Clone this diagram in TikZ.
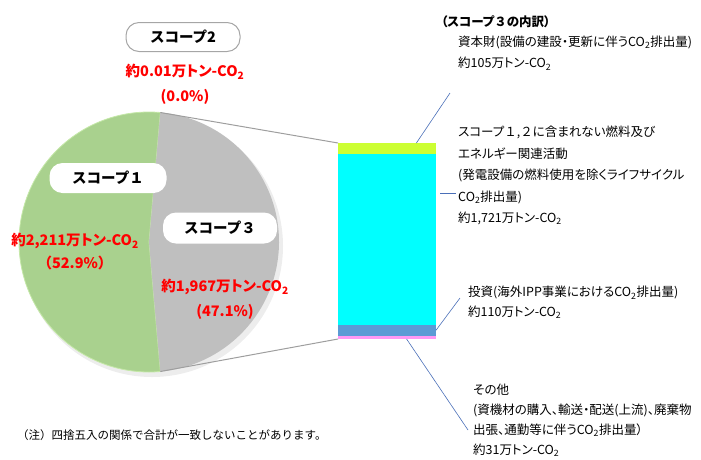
\documentclass[tikz,border=0pt]{standalone}
\usepackage{fontspec}
\setmainfont{Noto Sans CJK JP}[RawFeature=+palt]
\newfontfamily\fw{Noto Sans CJK JP}
\usetikzlibrary{positioning,calc}

\definecolor{scopeone}{HTML}{A9D18E}
\definecolor{scopeonerim}{HTML}{C5E8A8}
\definecolor{scopethree}{HTML}{BFBFBF}
\definecolor{capgoods}{HTML}{CCFF33}
\definecolor{fuelact}{HTML}{00FFFF}
\definecolor{invest}{HTML}{5B9BD5}
\definecolor{others}{HTML}{FF99F5}
\definecolor{leadblue}{HTML}{4A6FB8}
\definecolor{valred}{HTML}{FF0000}
\newcommand{\co}{CO\textsubscript{2}}

\begin{document}
\begin{tikzpicture}[x=1pt,y=-1pt]

        \def\r{130}

        % Looks of the labels, the bar pieces and the lines
        \tikzset{
            tag/.style={rounded corners=13pt, minimum width=114pt,
                minimum height=29pt, inner sep=0pt,
                font=\fw\fontsize{14.5}{16}\selectfont\bfseries},
            val/.style={text=valred, align=center, inner sep=0pt},
            note/.style={font=\fontsize{12.5}{21.5}\selectfont,
                align=left, anchor=west, inner sep=0pt},
            seg/.style={minimum width=98pt, inner sep=0pt, outer sep=0pt,
                anchor=north west},
            leader/.style={draw=leadblue, line width=0.6pt},
            zoomline/.style={draw=black!38, line width=1pt}
        }

        \useasboundingbox (0,0) rectangle (701,459);

        % Pie: scope 1 on the left, scope 3 on the right
        \coordinate (c) at (149,242);
        \fill[black!7] ($(c)+(3,4)$) circle (\r+1);
        \filldraw[fill=scopeone, draw=scopeonerim, line width=0.8pt]
            (c) -- ($(c)+(-85:\r)$) arc[start angle=-85, end angle=-275, radius=\r] -- cycle;
        \fill[scopethree]
            (c) -- ($(c)+(-85:\r)$) arc[start angle=-85, end angle=85, radius=\r] -- cycle;
        \coordinate (ptop) at ($(c)+(-85:\r)$);
        \coordinate (pbot) at ($(c)+(85:\r)$);

        % Scope 3 broken down as a stacked bar
        \begin{scope}
            \node (cap) [seg, fill=capgoods, minimum height=10.5pt] at (338,143) {};
            \node (fuel) [seg, fill=fuelact, minimum height=171.5pt] at (cap.south west) {};
            \node (inv) [seg, fill=invest, minimum height=10.5pt] at (fuel.south west) {};
            \node (oth) [seg, fill=others, minimum height=3.5pt] at (inv.south west) {};
        \end{scope}

        % Labels on the pie
        \node (s2) [tag, draw=black!35, line width=1pt] at (183,37) {スコープ2};
        \node (s2val) [val, font=\fontsize{14.5}{25}\selectfont\bfseries] at (185,84.5)
            {約0.01万トン-\co\\(0.0\%)};
        \node (s1) [tag, fill=white, minimum width=117pt, minimum height=30pt] at (108,178) {スコープ１};
        \node (s3) [tag, fill=white, minimum height=31pt] at (220,228) {スコープ３};
        \node (s1val) [val, font=\fontsize{14.5}{23}\selectfont\bfseries] at (75,251.5)
            {約2,211万トン-\co\\{\fw （52.9\%）}};
        \node (s3val) [val, font=\fontsize{14.5}{25}\selectfont\bfseries] at (225,299.5)
            {約1,967万トン-\co\\(47.1\%)};

        % Breakdown texts
        \node (hdr) [note, font=\fontsize{12.5}{14}\selectfont\bfseries] at (441,22)
            {（スコープ{\fw ３}の内訳）};
        \node (capt) [note] at (458,53)
            {資本財(設備の建設・更新に伴う\co{}排出量)\\約105万トン-\co};
        \node (fuelt) [note] at (458,175.5)
            {スコープ{\fw １,２}に含まれない燃料及び\\エネルギー関連活動\\
             (発電設備の燃料使用を除くライフサイクル\\\co{}排出量)\\約1,721万トン-\co};
        \node (invt) [note, font=\fontsize{12.5}{19.5}\selectfont] at (468,302.5)
            {投資(海外IPP事業における\co{}排出量)\\約110万トン-\co};
        \node (otht) [note, font=\fontsize{12.5}{20}\selectfont] at (473,420.5)
            {その他\\(資機材の購入、輸送・配送(上流)、廃棄物\\
             出張、通勤等に伴う\co{}排出量）\\約31万トン-\co};
        \node (fn) [note, font=\fw\fontsize{11.5}{14}\selectfont] at (17,435)
            {（注）四捨五入の関係で合計が一致しないことがあります。};

        % Free ends of the leader lines
        \coordinate (l1) at (450,93);
        \coordinate (l2a) at (440,193);
        \coordinate (l2b) at (456,193);
        \coordinate (l3) at (460,298);
        \coordinate (l4) at (468,430);

        \begin{scope}[zoomline]
            \draw (ptop) -- (cap.north west);
            \draw (pbot) -- (oth.south west);
        \end{scope}

        \begin{scope}[leader]
            \draw ($(cap.north west)!0.8!(cap.north east)$) -- (l1);
            \draw (l2a) -- (l2b);
            \draw (inv.east) -- (l3);
            \draw ($(oth.south west)!0.7!(oth.south east)$) -- (l4);
        \end{scope}

\end{tikzpicture}
\end{document}
